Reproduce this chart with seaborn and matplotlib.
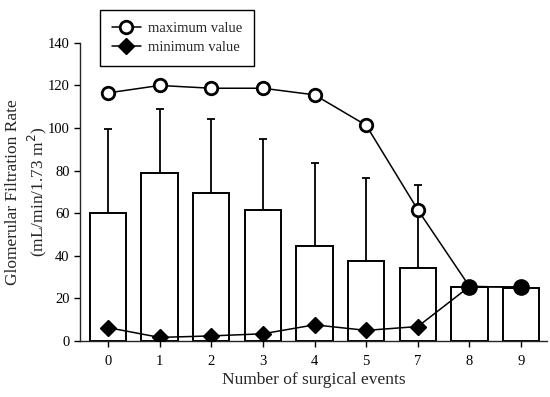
import matplotlib
matplotlib.use("Agg")
import matplotlib.pyplot as plt
import seaborn as sns
import numpy as np
import pandas as pd

# number of surgical events (no patients with 6 events)
events = ["0", "1", "2", "3", "4", "5", "7", "8", "9"]
mean_gfr = [60.2, 78.7, 69.3, 61.4, 44.6, 37.6, 34.1, 25.4, 25.0]
sd_gfr = [39.2, 30.3, 34.9, 33.3, 38.8, 39.1, 39.1, 0.0, 0.0]
max_gfr = [116.5, 120.0, 118.7, 118.7, 115.6, 101.3, 61.6, 25.6, 25.3]
min_gfr = [6.3, 1.7, 2.4, 3.4, 7.6, 5.0, 6.8, 25.6, 25.3]
single_patient = ["8", "9"]  # max == min, only one patient

sns.set_style("ticks")
plt.rcParams["font.family"] = ["Liberation Serif", "DejaVu Serif"]
plt.rcParams["axes.linewidth"] = 1.0

df = pd.DataFrame({"events": events, "mean": mean_gfr, "sd": sd_gfr,
                   "max": max_gfr, "min": min_gfr})
pos = np.arange(len(events))

fig = plt.figure(figsize=(5.5, 3.97), dpi=100)
ax = fig.add_axes([0.1455, 0.141, 0.849, 0.751])

sns.barplot(data=df, x="events", y="mean", order=events, ax=ax,
            color="white", edgecolor="black", linewidth=1.4, width=0.7,
            errorbar=None, saturation=1, zorder=2)
ax.errorbar(pos, df["mean"], yerr=[np.zeros(len(pos)), df["sd"]], fmt="none",
            ecolor="black", elinewidth=1.3, capsize=3, capthick=1.3, zorder=1)

multi = [i for i, e in enumerate(events) if e not in single_patient]
single = [i for i, e in enumerate(events) if e in single_patient]

ax.plot(pos, df["max"], color="black", lw=1.1, marker="o", markersize=9,
        markerfacecolor="white", markeredgecolor="black", markeredgewidth=2,
        markevery=multi, zorder=4, label="maximum value")
ax.plot(pos, df["min"], color="black", lw=1.1, marker="D", markersize=8,
        markerfacecolor="black", markeredgecolor="black",
        markevery=multi, zorder=4, label="minimum value")
ax.plot(pos[single], df["max"].iloc[single], linestyle="none", marker="o",
        markersize=11, color="black", zorder=5)

ax.set_xlim(-0.54, 8.5)
ax.set_ylim(0, 140)
ax.set_yticks(range(0, 141, 20))
sns.despine(ax=ax)
ax.tick_params(axis="both", labelsize=10.5, direction="out", length=4, width=1, colors="black")
ax.tick_params(axis="x", pad=6)
ax.set_xlabel("Number of surgical events", fontsize=12.5, labelpad=3)
ax.set_ylabel("Glomerular Filtration Rate\n(mL/min/1.73 m$^2$)", fontsize=12.5,
              linespacing=1.3)
ax.yaxis.set_label_coords(-0.066, 0.5)

leg = fig.legend(loc="upper left", bbox_to_anchor=(0.182, 0.975), borderaxespad=0,
                 fontsize=10.5, frameon=True, fancybox=False, edgecolor="black",
                 framealpha=1, handlelength=2.0, handletextpad=0.5,
                 borderpad=0.8, labelspacing=0.4)
leg.get_frame().set_linewidth(1.0)

fig.savefig("out.png", dpi=100)
